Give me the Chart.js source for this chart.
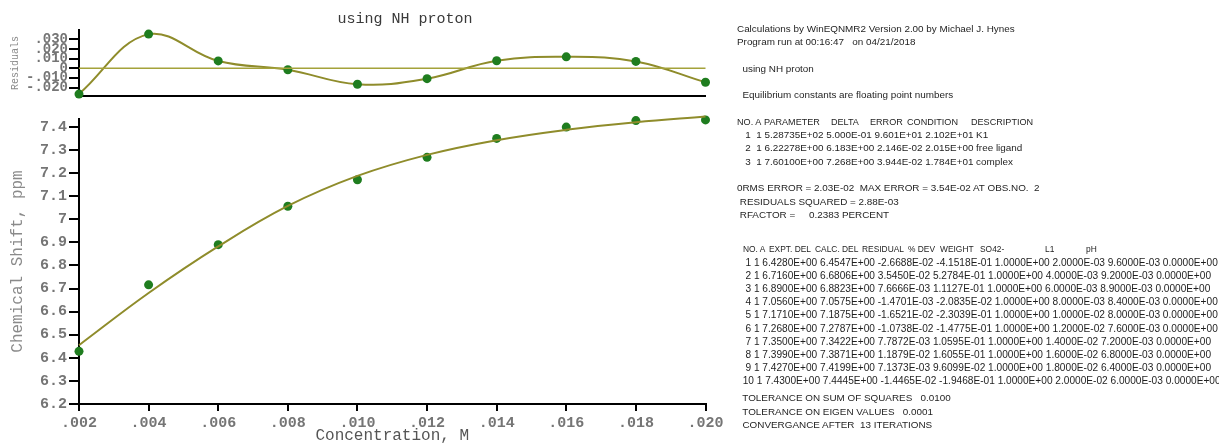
<!DOCTYPE html>
<html>
<head>
<meta charset="utf-8">
<title>WinEQNMR2 fit - NH proton</title>
<script src="https://cdn.jsdelivr.net/npm/chart.js@4.4.1/dist/chart.umd.min.js"></script>
<style>
  html, body { margin: 0; padding: 0; background: #fff; }
  body { width: 1219px; height: 444px; position: relative; overflow: hidden; }
  .wrap { position: absolute; left: 0; top: 0; }
  #mainWrap { width: 740px; height: 444px; }
  #residWrap { width: 810px; height: 110px; }
  .out {
    position: absolute; left: 737px; z-index: 2;
    font-family: "Liberation Sans", Arial, sans-serif; font-size: 9.9px;
    color: #1e1e1e; white-space: pre;
  }
  .hdr { position: relative; }
  .hdr span { position: absolute; top: 0; transform-origin: 0 50%; }
  .hdr.params span { transform: scaleX(0.92); }
  .hdr.obs span { font-size: 9.9px; transform: scaleX(0.85); }
</style>
</head>
<body>
<div id="mainWrap" class="wrap"><canvas id="chartMain"></canvas></div>
<div id="residWrap" class="wrap"><canvas id="chartResid"></canvas></div>

<div class="out" id="runInfo" style="top:21.7px; line-height:13.3px;"></div>
<div class="out" id="obsTable" style="top:242.4px; line-height:13.2px; font-size:10.15px;"></div>
<div class="out" id="tolerance" style="top:391.3px; line-height:13.5px;"></div>

<script>
// Observations: SO4(2-) concentration (M) and NH shifts (ppm)
const conc = [0.002, 0.004, 0.006, 0.008, 0.010, 0.012, 0.014, 0.016, 0.018, 0.020];
const exptShift = [6.428, 6.716, 6.890, 7.056, 7.171, 7.268, 7.350, 7.399, 7.427, 7.430];
const calcShift = [6.4547, 6.6806, 6.8823, 7.0575, 7.1875, 7.2787, 7.3422, 7.3871, 7.4199, 7.4445];
const residuals = [-0.026688, 0.03545, 0.0076666, -0.0014701, -0.016521, -0.010738, 0.0077872, 0.011879, 0.0071373, -0.014465];
const pctDev = [-0.41518, 0.52784, 0.11127, -0.020835, -0.23039, -0.14775, 0.10595, 0.16055, 0.096099, -0.19468];
const ligandConc = [0.0096, 0.0092, 0.0089, 0.0084, 0.0080, 0.0076, 0.0072, 0.0068, 0.0064, 0.0060];

const mono = "'Liberation Mono', 'Courier New', monospace";
const curveColor = '#8f8c2b';
const zeroColor = '#a4a23a';
const dotColor = '#1f7d1f';
const tickGrey = '#757575';

const toXY = ys => ys.map((y, i) => ({ x: conc[i], y }));

const fmtConc = v => v.toFixed(3).replace(/^0/, '');
const fmtResid = v => {
    if (Math.abs(v) < 1e-9) return '0';
    return (v < 0 ? '-' : '') + Math.abs(v).toFixed(3).replace(/^0/, '');
};
const fmtShift = v => String(+v.toFixed(1));

// Fortran style 1.2345E+00
const fmtE = (v, d) => {
    const [m, e] = v.toExponential(d).split('e');
    const n = Math.abs(parseInt(e, 10));
    return m + 'E' + (e[0] === '-' ? '-' : '+') + (n < 10 ? '0' : '') + n;
};

const axisFont = { family: mono, size: 15, weight: 'bold' };

// Residuals panel
new Chart(document.getElementById('chartResid'), {
    type: 'line',
    data: {
        datasets: [
            {
                data: [{ x: conc[0], y: 0 }, { x: conc[conc.length - 1], y: 0 }],
                borderColor: zeroColor,
                borderWidth: 1.5,
                pointRadius: 0,
                clip: false
            },
            {
                data: toXY(residuals),
                borderColor: curveColor,
                borderWidth: 2,
                tension: 0.4,
                pointRadius: 4.5,
                pointBackgroundColor: dotColor,
                pointBorderColor: dotColor,
                pointBorderWidth: 0,
                clip: false
            }
        ]
    },
    options: {
        responsive: true,
        maintainAspectRatio: false,
        animation: false,
        layout: { padding: 0 },
        plugins: {
            legend: { display: false },
            tooltip: { enabled: false },
            title: {
                display: true,
                text: 'using NH proton',
                color: '#3a3a3a',
                font: { family: mono, size: 15, weight: 'normal' },
                padding: { top: 10, bottom: 2 }
            }
        },
        scales: {
            x: {
                type: 'linear',
                min: 0.002,
                max: 0.020,
                ticks: { display: false },
                grid: { display: false },
                border: { display: true, color: '#000', width: 2 },
                afterFit: s => { s.height = 14; }
            },
            y: {
                min: -0.0287,
                max: 0.0397,
                afterFit: s => { s.width = 79; },
                ticks: {
                    stepSize: 0.01,
                    includeBounds: false,
                    autoSkip: false,
                    padding: 1,
                    color: tickGrey,
                    font: { family: mono, size: 14, weight: 'bold', lineHeight: 1 },
                    callback: fmtResid
                },
                grid: { drawOnChartArea: false, color: '#000', tickLength: 10, lineWidth: 2 },
                border: { color: '#000', width: 2 },
                title: {
                    display: true,
                    text: 'Residuals',
                    color: '#8a8a8a',
                    font: { family: mono, size: 10, lineHeight: 1 },
                    padding: { top: 10, bottom: 0 }
                }
            },
            // empty right-hand gutter, keeps the plot width while the title spans the canvas
            gutter: {
                type: 'linear',
                position: 'right',
                display: true,
                ticks: { display: false },
                grid: { display: false },
                border: { display: false },
                afterFit: s => { s.width = 104.5; }
            }
        }
    }
});

// Chemical shift vs concentration
new Chart(document.getElementById('chartMain'), {
    type: 'line',
    data: {
        datasets: [
            {
                data: toXY(calcShift),
                borderColor: curveColor,
                borderWidth: 2,
                tension: 0.4,
                pointRadius: 0,
                clip: false
            },
            {
                data: toXY(exptShift),
                showLine: false,
                pointRadius: 4.5,
                pointBackgroundColor: dotColor,
                pointBorderColor: dotColor,
                pointBorderWidth: 0,
                clip: false
            }
        ]
    },
    options: {
        responsive: true,
        maintainAspectRatio: false,
        animation: false,
        layout: { padding: { left: 0, right: 34.5, top: 119, bottom: 0 } },
        plugins: {
            legend: { display: false },
            tooltip: { enabled: false }
        },
        scales: {
            x: {
                type: 'linear',
                min: 0.002,
                max: 0.020,
                afterFit: s => { s.height = 40; },
                ticks: {
                    stepSize: 0.002,
                    padding: 3,
                    color: tickGrey,
                    font: axisFont,
                    maxRotation: 0,
                    autoSkip: false,
                    callback: fmtConc
                },
                grid: { drawOnChartArea: false, color: '#000', tickLength: 7, lineWidth: 2 },
                border: { color: '#000', width: 2 },
                title: {
                    display: true,
                    text: 'Concentration, M',
                    color: '#555',
                    font: { family: mono, size: 16, lineHeight: 1 },
                    padding: 0
                }
            },
            y: {
                min: 6.2,
                max: 7.434,
                afterFit: s => { s.width = 79; },
                ticks: {
                    stepSize: 0.1,
                    includeBounds: false,
                    autoSkip: false,
                    padding: 2,
                    color: tickGrey,
                    font: axisFont,
                    callback: fmtShift
                },
                grid: { drawOnChartArea: false, color: '#000', tickLength: 10, lineWidth: 2 },
                border: { color: '#000', width: 2 },
                title: {
                    display: true,
                    text: 'Chemical Shift, ppm',
                    color: '#8a8a8a',
                    font: { family: mono, size: 16, lineHeight: 1 },
                    padding: { top: 10, bottom: 0 }
                }
            }
        }
    }
});

// Program output listing
function addLine(parent, text) {
    const d = document.createElement('div');
    d.textContent = text;
    parent.appendChild(d);
}
function addHeader(parent, cols, kind) {
    const d = document.createElement('div');
    d.className = 'hdr ' + kind;
    d.textContent = ' ';
    cols.forEach(([t, x]) => {
        const s = document.createElement('span');
        s.textContent = t;
        s.style.left = x + 'px';
        d.appendChild(s);
    });
    parent.appendChild(d);
}

const info = document.getElementById('runInfo');
[
    'Calculations by WinEQNMR2 Version 2.00 by Michael J. Hynes',
    'Program run at 00:16:47   on 04/21/2018',
    ' ',
    '  using NH proton',
    ' ',
    '  Equilibrium constants are floating point numbers',
    ' '
].forEach(t => addLine(info, t));
addHeader(info, [['NO. A', 0], ['PARAMETER', 27], ['DELTA', 94], ['ERROR', 133],
    ['CONDITION', 170], ['DESCRIPTION', 234]], 'params');
[
    '   1  1 5.28735E+02 5.000E-01 9.601E+01 2.102E+01 K1',
    '   2  1 6.22278E+00 6.183E+00 2.146E-02 2.015E+00 free ligand',
    '   3  1 7.60100E+00 7.268E+00 3.944E-02 1.784E+01 complex',
    ' ',
    '0RMS ERROR = 2.03E-02  MAX ERROR = 3.54E-02 AT OBS.NO.  2',
    ' RESIDUALS SQUARED = 2.88E-03',
    ' RFACTOR =     0.2383 PERCENT'
].forEach(t => addLine(info, t));

const obs = document.getElementById('obsTable');
addHeader(obs, [['NO. A', 6], ['EXPT. DEL', 32], ['CALC. DEL', 78], ['RESIDUAL', 125],
    ['% DEV', 171], ['WEIGHT', 203], ['SO42-', 243], ['L1', 308], ['pH', 349]], 'obs');
conc.forEach((c, i) => {
    const no = String(i + 1);
    addLine(obs, (no.length < 2 ? '   ' : '  ') + no + ' 1 ' + [
        fmtE(exptShift[i], 4), fmtE(calcShift[i], 4), fmtE(residuals[i], 4), fmtE(pctDev[i], 4),
        fmtE(1, 4), fmtE(c, 4), fmtE(ligandConc[i], 4), fmtE(0, 4)
    ].join(' '));
});

const tol = document.getElementById('tolerance');
[
    '  TOLERANCE ON SUM OF SQUARES   0.0100',
    '  TOLERANCE ON EIGEN VALUES   0.0001',
    '  CONVERGANCE AFTER  13 ITERATIONS'
].forEach(t => addLine(tol, t));
</script>
</body>
</html>
